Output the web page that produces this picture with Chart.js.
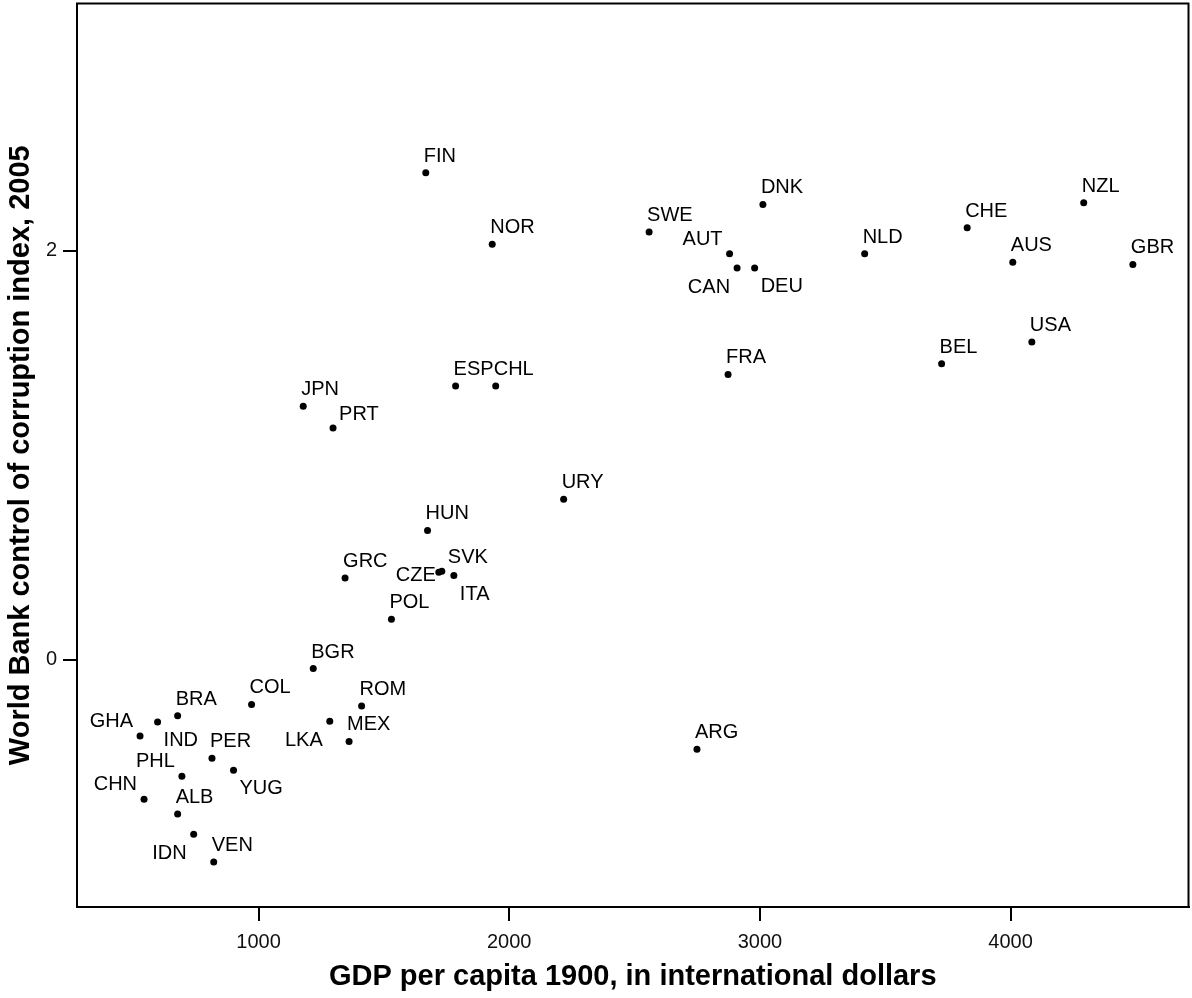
<!DOCTYPE html>
<html lang="en">
<head>
  <title>Corruption 2005 vs GDP per capita 1900</title>
  <script src="https://cdn.jsdelivr.net/npm/chart.js@4.4.0/dist/chart.umd.min.js"></script>
  <style>
    body { margin: 0; background: #fff; }
    canvas { display: block; }
  </style>
</head>
<body>
  <canvas id="scatterChart" width="1192" height="998"></canvas>
  <script>
    // country codes with GDP per capita in 1900 and control of corruption in 2005
    const countries = ['FIN', 'NOR', 'SWE', 'DNK', 'AUT', 'CAN', 'DEU', 'NLD', 'CHE', 'NZL',
      'AUS', 'GBR', 'USA', 'BEL', 'FRA', 'ESP', 'CHL', 'JPN', 'PRT', 'URY',
      'HUN', 'GRC', 'CZE', 'SVK', 'ITA', 'POL', 'BGR', 'COL', 'ROM', 'BRA',
      'IND', 'GHA', 'LKA', 'MEX', 'ARG', 'PER', 'YUG', 'PHL', 'CHN', 'ALB',
      'IDN', 'VEN'];
    const gdp1900 = [1667, 1932, 2558, 3012, 2879, 2909, 2979, 3418, 3827, 4292,
      4009, 4488, 4085, 3725, 2873, 1786, 1946, 1178, 1297, 2217,
      1674, 1345, 1719, 1731, 1779, 1530, 1218, 972, 1411, 677,
      597, 527, 1284, 1361, 2749, 814, 900, 694, 543, 677,
      741, 821];
    const corruption2005 = [2.381, 2.031, 2.091, 2.226, 1.985, 1.915, 1.915, 1.985, 2.112, 2.235,
      1.944, 1.933, 1.553, 1.447, 1.395, 1.338, 1.338, 1.239, 1.133, 0.784,
      0.632, 0.399, 0.427, 0.432, 0.411, 0.197, -0.044, -0.219, -0.227, -0.274,
      -0.305, -0.374, -0.302, -0.400, -0.439, -0.483, -0.541, -0.571, -0.683, -0.755,
      -0.854, -0.990];
    // which side of the dot each label goes
    const labelSide = ['n', 'n', 'n', 'n', 'nw', 'sw', 'se', 'n', 'n', 'n',
      'n', 'n', 'n', 'n', 'n', 'n', 'n', 'n', 'ne', 'n',
      'n', 'n', 'w', 'ne', 'se', 'n', 'n', 'n', 'n', 'n',
      'se', 'nw', 'sw', 'n', 'n', 'n', 'se', 'nw', 'nw', 'n',
      'sw', 'n'];
    const xTicks = [1000, 2000, 3000, 4000];
    const yTicks = [0, 2];

    const fontFamily = '"Liberation Sans", Arial, Helvetica, sans-serif';

    // draws the country codes next to the dots, plus the box round the plot
    const labelPlugin = {
      id: 'pointLabels',
      afterDatasetsDraw(chart) {
        const ctx = chart.ctx;
        const pts = chart.getDatasetMeta(0).data;
        ctx.save();
        ctx.font = '20px ' + fontFamily;
        ctx.fillStyle = '#000';
        ctx.textBaseline = 'alphabetic';
        pts.forEach((p, i) => {
          let side = labelSide[i];
          let tx = p.x, ty = p.y;
          ctx.textAlign = 'left';
          if (side === 'n') { tx -= 2; ty -= 11; }
          else if (side === 'ne') { tx += 6; ty -= 8; }
          else if (side === 'nw') { ctx.textAlign = 'right'; tx -= 7; ty -= 9; }
          else if (side === 'se') { tx += 6; ty += 24; }
          else if (side === 'sw') { ctx.textAlign = 'right'; tx -= 7; ty += 25; }
          else if (side === 'w') { ctx.textAlign = 'right'; tx -= 3; ty += 9; }
          ctx.fillText(countries[i], tx, ty);
        });
        const a = chart.chartArea;
        ctx.strokeStyle = '#000';
        ctx.lineWidth = 2;
        ctx.strokeRect(a.left, a.top, a.right - a.left, a.bottom - a.top);
        ctx.restore();
      }
    };

    const points = gdp1900.map((g, i) => ({ x: g, y: corruption2005[i] }));

    new Chart(document.getElementById('scatterChart'), {
      type: 'scatter',
      data: {
        datasets: [{
          data: points,
          backgroundColor: '#000',
          borderWidth: 0,
          pointRadius: 3.5,
          pointHoverRadius: 3.5
        }]
      },
      options: {
        responsive: false,
        animation: false,
        layout: { padding: { top: 3, right: 3, left: 0, bottom: 0 } },
        plugins: {
          legend: { display: false },
          tooltip: { enabled: false }
        },
        scales: {
          x: {
            type: 'linear',
            min: 275.5,
            max: 4710,
            afterBuildTicks: s => { s.ticks = xTicks.map(v => ({ value: v })); },
            afterFit: s => { s.height = 91; s.paddingLeft = 0; s.paddingRight = 0; },
            grid: { drawOnChartArea: false, drawTicks: true, tickLength: 14, color: '#000', lineWidth: 2 },
            border: { display: true, color: '#000', width: 2 },
            ticks: {
              padding: 9,
              color: '#111',
              font: { family: fontFamily, size: 20 },
              callback: v => String(v)
            },
            title: {
              display: true,
              text: 'GDP per capita 1900, in international dollars',
              color: '#000',
              font: { family: fontFamily, size: 29, weight: 'bold' },
              padding: { top: 0, bottom: 4 }
            }
          },
          y: {
            type: 'linear',
            min: -1.21,
            max: 3.209,
            afterBuildTicks: s => { s.ticks = yTicks.map(v => ({ value: v })); },
            afterFit: s => { s.width = 77; s.paddingTop = 0; s.paddingBottom = 0; },
            grid: { drawOnChartArea: false, drawTicks: true, tickLength: 14, color: '#000', lineWidth: 2 },
            border: { display: true, color: '#000', width: 2 },
            ticks: {
              padding: 6,
              color: '#111',
              font: { family: fontFamily, size: 20 },
              callback: v => String(v)
            },
            title: {
              display: true,
              text: 'World Bank control of corruption index, 2005',
              color: '#000',
              font: { family: fontFamily, size: 29, weight: 'bold' },
              padding: { top: 4, bottom: 0 }
            }
          }
        }
      },
      plugins: [labelPlugin]
    });
  </script>
</body>
</html>
